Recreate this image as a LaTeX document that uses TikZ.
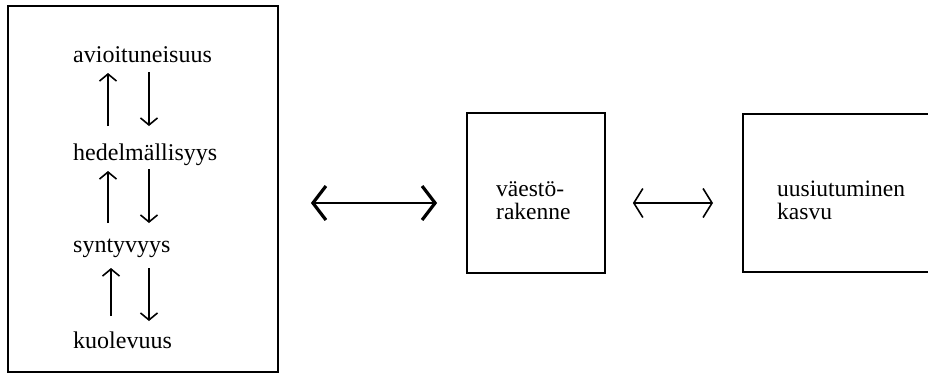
\documentclass[tikz,border=0pt]{standalone}
\usepackage{fontspec}
\setmainfont{Liberation Serif}
\usetikzlibrary{arrows.meta,calc}
\tikzset{
  box/.style={draw, line width=1.8pt, inner sep=0pt},
  lbl/.style={anchor=west, inner sep=0pt, font=\fontsize{24}{26}\selectfont},
  rlbl/.style={anchor=west, inner sep=0pt, align=left, font=\fontsize{23.5}{23}\selectfont},
  small/.style={line width=1.4pt, -{Straight Barb[length=7pt,width=17pt,line width=1.6pt]}},
  big/.style={line width=2.2pt, {Straight Barb[length=13pt,width=34pt,line width=3.2pt]}-{Straight Barb[length=13pt,width=34pt,line width=3.2pt]}},
  mid/.style={line width=1.3pt, {Straight Barb[length=9pt,width=29pt,line width=1.6pt]}-{Straight Barb[length=9pt,width=29pt,line width=1.6pt]}}
}
\begin{document}
\begin{tikzpicture}[x=1pt,y=-1pt]
\useasboundingbox (0,0) rectangle (928,383);
\fill[white] (0,0) rectangle (928,383);
% boxes
\node[box, minimum width=270pt, minimum height=366pt] (L) at (143,189) {};
\node[box, minimum width=138pt, minimum height=160pt] (M) at (536,193) {};
\draw[line width=1.8pt] (940,114) -- (743,114) -- (743,272) -- (940,272);
\coordinate (R) at (743,193);
% left texts
\node[lbl] (a) at (73,55) {avioituneisuus};
\node[lbl] (h) at (73,155) {hedelmällisyys};
\node[lbl] (s) at (73,248) {syntyvyys};
\node[lbl] (k) at (73,340) {kuolevuus};
% middle / right texts
\node[rlbl] (mt) at (496,201) {väestö-\\rakenne};
\node[rlbl] (rt) at (777,200) {uusiutuminen\\kasvu};
% small arrows
\coordinate (u1s) at (108,126); \coordinate (u1e) at (108,73);
\coordinate (d1s) at (149,72);  \coordinate (d1e) at (149,126);
\coordinate (u2s) at (108,223); \coordinate (u2e) at (108,171);
\coordinate (d2s) at (149,169); \coordinate (d2e) at (149,223);
\coordinate (u3s) at (111,316); \coordinate (u3e) at (111,268);
\coordinate (d3s) at (149,268); \coordinate (d3e) at (149,321);
\draw[small] (u1s) -- (u1e);
\draw[small] (d1s) -- (d1e);
\draw[small] (u2s) -- (u2e);
\draw[small] (d2s) -- (d2e);
\draw[small] (u3s) -- (u3e);
\draw[small] (d3s) -- (d3e);
% connectors
\draw[big] ($(L.east)+(32,14)$) -- ($(M.west)+(-29,10)$);
\draw[mid] ($(M.east)+(27,10)$) -- ($(R)+(-30,10)$);
\end{tikzpicture}
\end{document}
